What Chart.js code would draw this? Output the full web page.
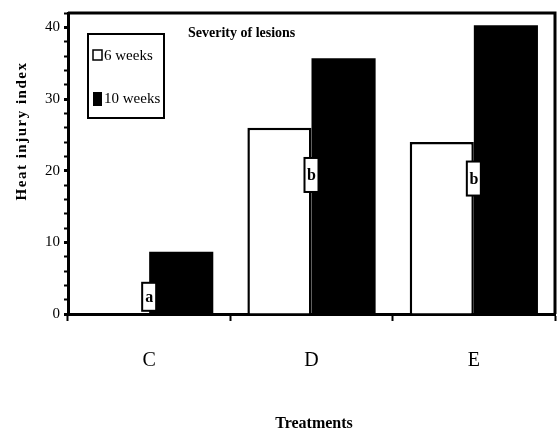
<!DOCTYPE html>
<html>
<head>
<meta charset="utf-8">
<script src="https://cdn.jsdelivr.net/npm/chart.js@4/dist/chart.umd.min.js"></script>
<style>
  html, body { margin: 0; padding: 0; background: #fff; }
  #wrap { width: 558px; height: 434px; }
</style>
</head>
<body>
<div id="wrap"><canvas id="chart" width="558" height="434"></canvas></div>
<script>
const treatments = ['C', 'D', 'E'];
const weeks6 = [0, 26, 24];
const weeks10 = [8.7, 35.7, 40.3];
const letters = ['a', 'b', 'b'];
const letterLevels = [2.4, 19.4, 18.9]; // y value where the letter box sits

const serif = '"Liberation Serif", "DejaVu Serif", serif';

// titles, legend box, frame and the significance letters
const extras = {
  id: 'extras',
  afterDraw(chart) {
    const ctx = chart.ctx;
    const a = chart.chartArea;
    const x = chart.scales.x, y = chart.scales.y;
    ctx.save();

    // top + right frame
    ctx.strokeStyle = '#000';
    ctx.lineWidth = 3;
    ctx.beginPath();
    ctx.moveTo(a.left, a.top);
    ctx.lineTo(a.right, a.top);
    ctx.lineTo(a.right, a.bottom);
    ctx.stroke();

    // plot title
    ctx.fillStyle = '#000';
    ctx.font = 'bold 14px ' + serif;
    ctx.textBaseline = 'middle';
    ctx.textAlign = 'left';
    ctx.fillText('Severity of lesions', 188, 33);

    // legend
    ctx.lineWidth = 2;
    ctx.strokeRect(88, 34, 76, 84);
    ctx.lineWidth = 1.5;
    ctx.fillStyle = '#fff';
    ctx.fillRect(93, 50, 9, 10);
    ctx.strokeRect(93, 50, 9, 10);
    ctx.fillStyle = '#000';
    ctx.fillRect(93, 92, 9, 14);
    ctx.font = '15px ' + serif;
    ctx.fillText(chart.data.datasets[0].label, 104, 56);
    ctx.fillText(chart.data.datasets[1].label, 104, 99);

    // letters
    letters.forEach((t, i) => {
      const cx = x.getPixelForValue(i);
      const cy = y.getPixelForValue(letterLevels[i]);
      const h = t === 'a' ? 28 : 34;
      ctx.fillStyle = '#fff';
      ctx.fillRect(cx - 7, cy - h / 2, 14, h);
      ctx.strokeStyle = '#000';
      ctx.lineWidth = 2;
      ctx.strokeRect(cx - 7, cy - h / 2, 14, h);
      ctx.fillStyle = '#000';
      ctx.font = 'bold 16px ' + serif;
      ctx.textAlign = 'center';
      ctx.fillText(t, cx, cy + 1);
    });

    // axis titles
    ctx.font = 'bold 16px ' + serif;
    ctx.textAlign = 'center';
    ctx.fillText('Treatments', 314, 424);
    ctx.translate(22, 131);
    ctx.rotate(-Math.PI / 2);
    ctx.font = 'bold 15px ' + serif;
    ctx.letterSpacing = '1.5px';
    ctx.fillText('Heat injury index', 0, 0);
    ctx.restore();
  }
};

new Chart(document.getElementById('chart'), {
  type: 'bar',
  data: {
    labels: treatments,
    datasets: [
      {
        label: '6 weeks',
        data: weeks6,
        backgroundColor: '#fff',
        borderColor: '#000',
        borderWidth: 2.5,
        borderSkipped: 'bottom'
      },
      {
        label: '10 weeks',
        data: weeks10,
        backgroundColor: '#000',
        borderColor: '#000',
        borderWidth: 0
      }
    ]
  },
  options: {
    responsive: false,
    animation: false,
    layout: { padding: { top: 13, right: 3, left: 0, bottom: 0 } },
    plugins: {
      legend: { display: false },
      tooltip: { enabled: false }
    },
    datasets: {
      bar: { categoryPercentage: 0.79, barPercentage: 1.0 }
    },
    scales: {
      x: {
        afterFit(s) { s.height = 120; },
        grid: {
          offset: true,
          drawOnChartArea: false,
          tickLength: 7,
          tickWidth: 2,
          tickColor: '#000'
        },
        border: { color: '#000', width: 3 },
        ticks: {
          color: '#000',
          padding: 28,
          font: { family: serif, size: 20 }
        }
      },
      y: {
        min: 0,
        max: 42,
        afterFit(s) { s.width = 68; },
        grid: {
          drawOnChartArea: false,
          tickLength: 4,
          tickColor: '#000',
          tickWidth: ctx => (ctx.tick && ctx.tick.value % 10 === 0 ? 3 : 2)
        },
        border: { color: '#000', width: 3 },
        ticks: {
          stepSize: 2,
          autoSkip: false,
          color: '#000',
          padding: 4,
          font: { family: serif, size: 15 },
          callback: v => (v % 10 === 0 ? v : '')
        }
      }
    }
  },
  plugins: [extras]
});
</script>
</body>
</html>
